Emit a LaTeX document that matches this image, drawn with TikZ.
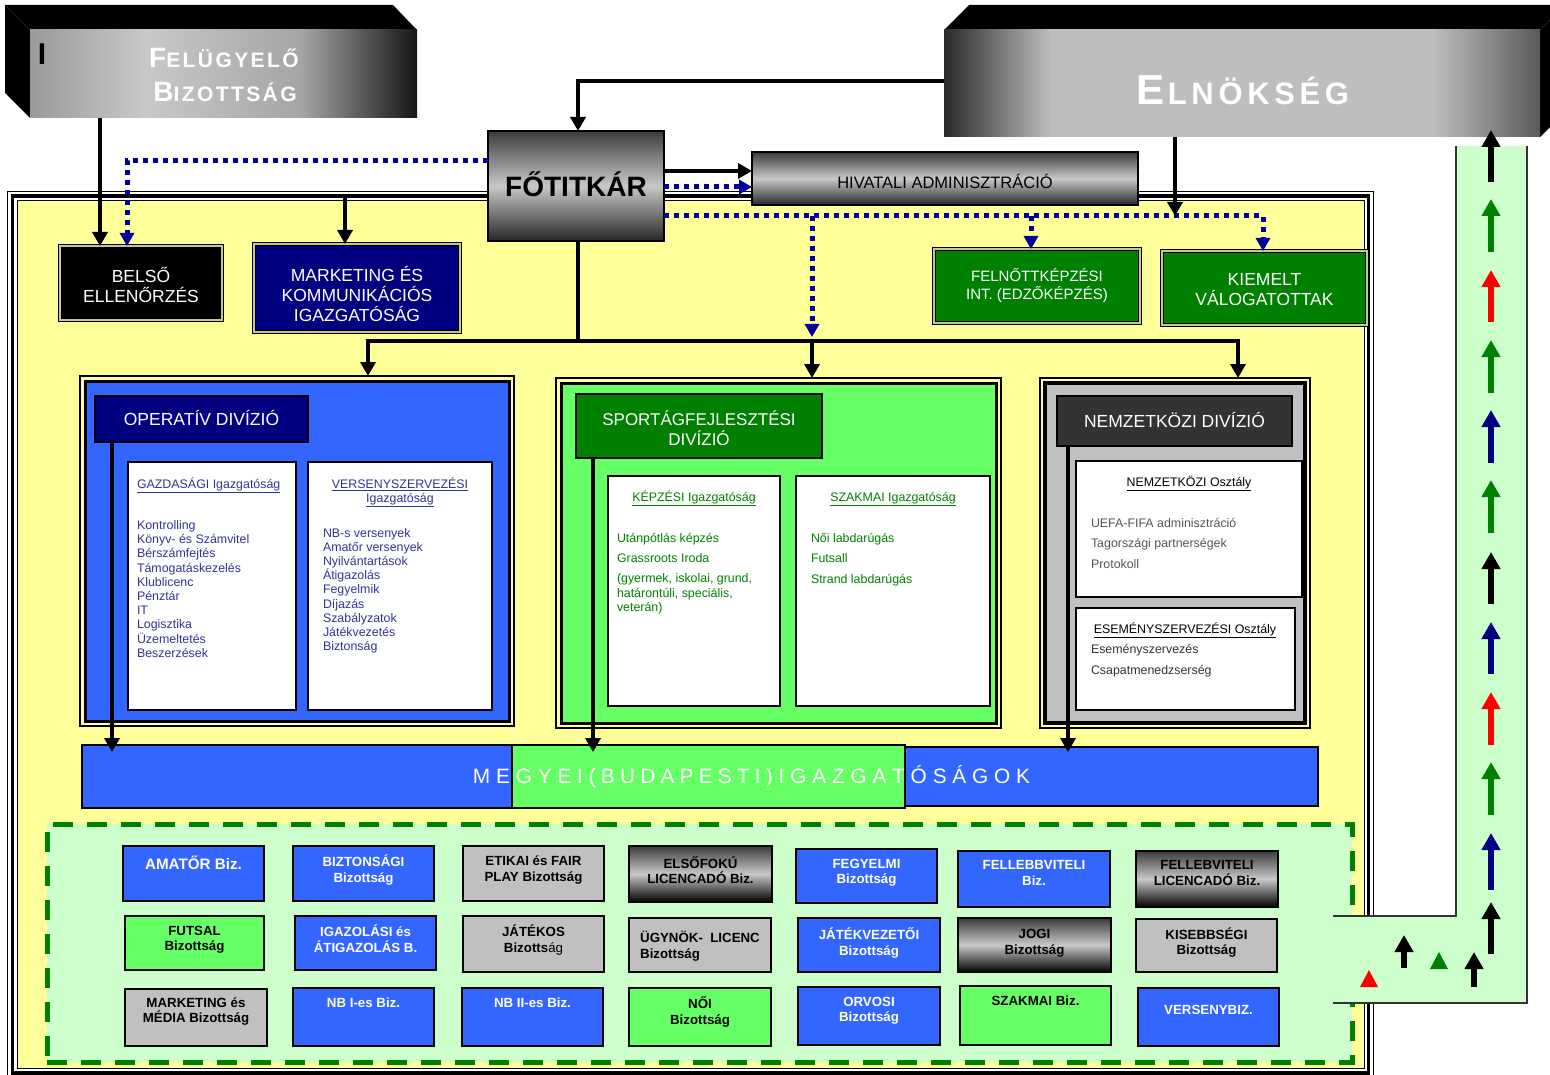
\documentclass[tikz,border=0pt]{standalone}
\usepackage{fontspec}
\setmainfont{Liberation Sans}
\usepackage{graphicx}
\usetikzlibrary{arrows.meta,calc}
\definecolor{yel}{HTML}{FFFF99}
\definecolor{blu}{HTML}{3366FF}
\definecolor{nav}{HTML}{000080}
\definecolor{dgr}{HTML}{008000}
\definecolor{lgr}{HTML}{66FF66}
\definecolor{pgr}{HTML}{CCFFCC}
\definecolor{gry}{HTML}{C0C0C0}
\definecolor{dkg}{HTML}{333333}
\definecolor{dotc}{HTML}{000099}
\definecolor{gaz}{HTML}{333399}
\definecolor{nzt}{HTML}{555555}
\definecolor{dblc}{HTML}{C8C88C}
\definecolor{gt}{HTML}{3C3C3C}
\definecolor{gm}{HTML}{C8C8C8}
\definecolor{gb}{HTML}{262626}
\definecolor{fbA}{HTML}{9A9A9A}
\definecolor{fbB}{HTML}{C8C8C8}
\definecolor{fbC}{HTML}{A5A5A5}
\definecolor{fbD}{HTML}{151515}
\definecolor{elA}{HTML}{2A2A2A}
\definecolor{elB}{HTML}{BEBEBE}
\definecolor{elC}{HTML}{5A5A5A}
\pgfdeclarehorizontalshading{fbshade}{100bp}{color(0bp)=(fbA); color(25bp)=(fbA); color(40bp)=(fbB); color(60bp)=(fbC); color(75bp)=(fbD); color(100bp)=(fbD)}
\pgfdeclarehorizontalshading{elshade}{100bp}{color(0bp)=(elA); color(25bp)=(elA); color(34bp)=(elB); color(66bp)=(elB); color(75bp)=(elC); color(100bp)=(elC)}
\newcommand{\rectnode}[6]{\node[#2, minimum width={(#5)-(#3)}, minimum height={(#6)-(#4)}] (#1) at ({((#3)+(#5))/2},{((#4)+(#6))/2}) {};}
\newcommand{\mkbox}[9]{\rectnode{#1}{#2}{#3}{#4}{#5}{#6}\node[#7] (#1t) at ({((#3)+(#5))/2},#8) {#9};}
\tikzset{
  every node/.style={inner sep=0pt, outer sep=0pt},
  conn/.style={line width=3.5pt, -{Triangle[width=15pt,length=14pt]}},
  plainline/.style={line width=3.5pt},
  dotline/.style={draw=dotc, line width=5pt, dash pattern=on 5pt off 5pt},
  dotconn/.style={dotline, -{Triangle[width=14pt,length=13pt]}},
  dbl/.style={draw=black, double=dblc, double distance=1.2pt, line width=1.3pt},
  unitt/.style={text=white, align=center, font=\fontsize{17.5}{20}\selectfont},
  gradbox/.style={draw=black, line width=1.2pt, top color=gt, bottom color=gb, middle color=gm},
  wbox/.style={draw=black, line width=1.5pt, fill=white},
  combox/.style={draw=black, line width=1.8pt},
  cblue/.style={combox, fill=blu},
  cgrey/.style={combox, fill=gry},
  cgreen/.style={combox, fill=lgr},
  cgrad/.style={combox, top color=gt, bottom color=black, middle color=gm},
  ctw/.style={align=center, text=white, font=\bfseries\fontsize{13.3}{15.5}\selectfont},
  ctb/.style={align=center, text=black, font=\bfseries\fontsize{13.3}{15.5}\selectfont},
  item/.style={anchor=base west, font=\fontsize{12.4}{14.5}\selectfont},
  hdr/.style={anchor=base, font=\fontsize{12.4}{14.5}\selectfont},
  bandarr/.style={line width=6pt, -{Triangle[width=18pt,length=17pt]}}
}
\begin{document}
\begin{tikzpicture}[x=1pt,y=-1pt]
\useasboundingbox (0,0) rectangle (1550,1075);
\fill[white] (0,0) rectangle (1550,1075);

% main frame
\draw[line width=1pt, fill=white] (7.5,191.5) rectangle (1373.5,1080);
\draw[line width=3.5pt] (12.5,196) rectangle (1368.5,1073);
\draw[line width=1pt, fill=yel] (17.5,201) rectangle (1364,1068);

% Felugyelo Bizottsag
\fill[black] (5,5) -- (393,5) -- (417,30) -- (30,30) -- cycle;
\fill[black] (5,5) -- (30,30) -- (30,118) -- (5,93) -- cycle;
\rectnode{felugy}{shade, shading=fbshade}{30}{30}{417}{118}
\node[anchor=base, text=white, font=\bfseries\fontsize{21}{21}\selectfont] (fbt1) at (224,68)
  {{\fontsize{28}{28}\selectfont F}\addfontfeature{LetterSpace=11.5}ELÜGYELŐ};
\node[anchor=base, text=white, font=\bfseries\fontsize{21}{21}\selectfont] (fbt2) at (225,102)
  {{\fontsize{28}{28}\selectfont B}\addfontfeature{LetterSpace=11.5}IZOTTSÁG};
\node[anchor=base, font=\bfseries\fontsize{30}{30}\selectfont] (fbI) at (42,65) {I};

% Elnokseg
\fill[black] (944,30) -- (969,5) -- (1565,5) -- (1540,30) -- cycle;
\fill[black] (1540,30) -- (1565,5) -- (1565,112) -- (1540,137) -- cycle;
\rectnode{elnok}{shade, shading=elshade}{944}{30}{1540}{137}
\node[anchor=base, text=white, font=\bfseries\fontsize{31}{31}\selectfont] (elnokt) at (1243,105)
  {{\fontsize{42}{42}\selectfont E}\kern3pt\addfontfeature{LetterSpace=15}LNÖKSÉG};

% Fotitkar and Hivatali
\mkbox{fot}{gradbox}{488}{131}{664}{241}{anchor=base, font=\bfseries\fontsize{28}{28}\selectfont}{197}{FŐTITKÁR}
\mkbox{hiv}{gradbox}{752}{152}{1138}{205}{anchor=base, font=\fontsize{16.5}{18}\selectfont}{189}{HIVATALI ADMINISZTRÁCIÓ}

% first level units
\mkbox{belso}{dbl, fill=black}{60}{246}{222}{320}{unitt}{285}{BELSŐ\\ELLENŐRZÉS}
\mkbox{mark}{dbl, fill=nav}{254}{244}{460}{332}{unitt}{293.5}{MARKETING ÉS\\KOMMUNIKÁCIÓS\\IGAZGATÓSÁG}
\mkbox{feln}{dbl, fill=dgr}{934}{249}{1140}{323}{unitt, font=\fontsize{15}{17.5}\selectfont}{285.5}{FELNŐTTKÉPZÉSI\\INT. (EDZŐKÉPZÉS)}
\mkbox{kiem}{dbl, fill=dgr}{1162}{251}{1367}{325}{unitt}{290}{KIEMELT\\VÁLOGATOTTAK}

% Operativ divizio
\rectnode{opframe}{draw, line width=1.2pt}{80}{376}{514}{726}
\rectnode{opdiv}{draw, fill=blu, line width=3pt}{85}{381}{509}{721}
\mkbox{optitle}{draw, line width=1.5pt, fill=nav}{95}{396}{308}{442}{anchor=base, text=white, font=\fontsize{17.5}{20}\selectfont}{425.5}{OPERATÍV DIVÍZIÓ}
\rectnode{gazd}{wbox}{128}{462}{296}{710}
\rectnode{vers}{wbox}{308}{462}{492}{710}
\node[item, text=gaz] (gzh) at (137,488.5) {\underline{GAZDASÁGI Igazgatóság}};
\foreach \t [count=\i from 0] in {Kontrolling, Könyv- és Számvitel, Bérszámfejtés, Támogatáskezelés, Klublicenc, Pénztár, IT, Logisztika, Üzemeltetés, Beszerzések}
  \node[item, text=gaz] (gz\i) at (137,{529.5+14.2*\i}) {\t};
\node[hdr, text=gaz] (vsh1) at (400,488.5) {\underline{VERSENYSZERVEZÉSI}};
\node[hdr, text=gaz] (vsh2) at (400,502.5) {\underline{Igazgatóság}};
\foreach \t [count=\i from 0] in {NB-s versenyek, Amatőr versenyek, Nyilvántartások, Átigazolás, Fegyelmik, Díjazás, Szabályzatok, Játékvezetés, Biztonság}
  \node[item, text=gaz] (vs\i) at (323,{537.5+14.1*\i}) {\t};

% Sportagfejlesztesi divizio
\rectnode{spframe}{draw, line width=1.2pt}{556}{378}{1001}{728}
\rectnode{spdiv}{draw, fill=lgr, line width=3pt}{561}{383}{996}{723}
\mkbox{sptitle}{draw, line width=1.5pt, fill=dgr}{576}{394}{822}{458}{text=white, align=center, font=\fontsize{17}{20}\selectfont}{428}{SPORTÁGFEJLESZTÉSI\\DIVÍZIÓ}
\rectnode{kepz}{wbox}{608}{476}{780}{706}
\rectnode{szak}{wbox}{796}{476}{990}{706}
\node[hdr, text=dgr] (kph) at (694,501.5) {\underline{KÉPZÉSI Igazgatóság}};
\node[item, text=dgr] (kp1) at (617,542.5) {Utánpótlás képzés};
\node[item, text=dgr] (kp2) at (617,562.5) {Grassroots Iroda};
\node[item, text=dgr] (kp3) at (617,582.5) {(gyermek, iskolai, grund,};
\node[item, text=dgr] (kp4) at (617,597) {határontúli, speciális,};
\node[item, text=dgr] (kp5) at (617,611.5) {veterán)};
\node[hdr, text=dgr] (szh) at (893,501.5) {\underline{SZAKMAI Igazgatóság}};
\node[item, text=dgr] (sz1) at (811,542.5) {Női labdarúgás};
\node[item, text=dgr] (sz2) at (811,562.5) {Futsall};
\node[item, text=dgr] (sz3) at (811,583.5) {Strand labdarúgás};

% Nemzetkozi divizio
\rectnode{nzframe}{draw, line width=1.2pt}{1040}{378}{1310}{728}
\rectnode{nzdiv}{draw, fill=gry, line width=4pt}{1045}{383}{1305}{723}
\mkbox{nztitle}{draw, line width=1.5pt, fill=dkg}{1057}{396}{1292}{446}{anchor=base, text=white, font=\fontsize{17.5}{20}\selectfont}{427.5}{NEMZETKÖZI DIVÍZIÓ}
\rectnode{nzo}{wbox}{1076}{461}{1302}{597}
\rectnode{eso}{wbox}{1076}{608}{1295}{710}
\node[hdr] (nzh) at (1189,486.5) {\underline{NEMZETKÖZI Osztály}};
\node[item, text=nzt] (nz1) at (1091,527.5) {UEFA-FIFA adminisztráció};
\node[item, text=nzt] (nz2) at (1091,547.5) {Tagországi partnerségek};
\node[item, text=nzt] (nz3) at (1091,568.5) {Protokoll};
\node[hdr] (esh) at (1185,633.5) {\underline{ESEMÉNYSZERVEZÉSI Osztály}};
\node[item, text=dkg] (es1) at (1091,653.5) {Eseményszervezés};
\node[item, text=dkg] (es2) at (1091,674.5) {Csapatmenedzserség};

% Megyei igazgatosagok
\rectnode{meg1}{draw, line width=1.5pt, fill=blu}{82}{745}{512}{808}
\rectnode{meg3}{draw, line width=1.5pt, fill=blu}{905}{747}{1318}{806}
\rectnode{meg2}{draw, line width=1.5pt, fill=lgr}{512}{745}{905}{808}
\node[anchor=base, text=white] (megt) at (751.5,783)
  {\resizebox{557pt}{18pt}{\fontsize{14}{14}\selectfont M E G Y E I {\addfontfeature{LetterSpace=25}(BUDAPESTI)} I G A Z G A T Ó S Á G O K}};

% committees area
\rectnode{bizarea}{draw=dgr, line width=5pt, dash pattern=on 20pt off 14pt, fill=pgr}{47}{824}{1352}{1062}

\mkbox{am}{cblue}{123}{846}{264}{901}{ctw, font=\bfseries\fontsize{15.2}{17}\selectfont}{863}{AMATŐR Biz.}
\mkbox{bizt}{cblue}{293}{846}{434}{901}{ctw}{870}{BIZTONSÁGI\\Bizottság}
\mkbox{etik}{cgrey}{463}{846}{604}{901}{ctb}{870}{ETIKAI és FAIR\\PLAY Bizottság}
\mkbox{elso}{cgrad}{629}{846}{772}{902}{ctb}{870}{ELSŐFOKÚ\\LICENCADÓ Biz.}
\mkbox{fegy}{cblue}{796}{849}{937}{903}{ctw}{873}{FEGYELMI\\Bizottság}
\mkbox{fell}{cblue}{958}{851}{1110}{907}{ctw}{873}{FELLEBBVITELI\\Biz.}
\mkbox{fellic}{cgrad}{1136}{851}{1278}{907}{ctb}{873}{FELLEBVITELI\\LICENCADÓ Biz.}

\mkbox{futs}{cgreen}{125}{916}{264}{970}{ctb}{940}{FUTSAL\\Bizottság}
\mkbox{igaz}{cblue}{295}{916}{436}{970}{ctw}{938.5}{IGAZOLÁSI és\\ÁTIGAZOLÁS B.}
\mkbox{jat}{cgrey}{463}{916}{604}{972}{ctb}{940}{JÁTÉKOS\\Bizotts{\mdseries ág}}
\mkbox{ugy}{cgrey}{629}{918}{771}{972}{ctb}{947}{\begin{tabular}{@{}l@{}}ÜGYNÖK-~~LICENC\\Bizottság\end{tabular}}
\mkbox{jatv}{cblue}{798}{918}{940}{972}{ctw}{943}{JÁTÉKVEZETŐI\\Bizottság}
\mkbox{jogi}{cgrad}{958}{918}{1111}{972}{ctb}{943.5}{JOGI\\Bizottság}
\mkbox{kis}{cgrey}{1136}{919}{1277}{972}{ctb}{942.5}{KISEBBSÉGI\\Bizottság}

\mkbox{mark2}{cgrey}{125}{989}{267}{1046}{ctb}{1011.5}{MARKETING és\\MÉDIA Bizottság}
\mkbox{nb1}{cblue}{293}{988}{434}{1046}{ctw}{1003}{NB I-es Biz.}
\mkbox{nb2}{cblue}{462}{988}{603}{1046}{ctw}{1003}{NB II-es Biz.}
\mkbox{noi}{cgreen}{629}{988}{771}{1046}{ctb}{1012}{NŐI\\Bizottság}
\mkbox{orv}{cblue}{798}{987}{940}{1045}{ctw}{1011}{ORVOSI\\Bizottság}
\mkbox{szakb}{cgreen}{960}{986}{1111}{1045}{ctb}{1001}{SZAKMAI Biz.}
\mkbox{versb}{cblue}{1138}{988}{1279}{1046}{ctw}{1010}{VERSENYBIZ.}

% connectors
\draw[conn] (felugy.south -| 100,0) -- (belso.north -| 100,0);
\draw[dotconn] (fot.west |- 0,161) -| (belso.north -| 127,0);
\draw[conn] (elnok.west |- 0,81) -| (fot.north -| 578,0);
\draw[conn] (fot.west |- 0,196) -| (mark.north -| 345,0);
\draw[conn] (fot.east |- 0,171) -- (hiv.west |- 0,171);
\draw[dotconn] (fot.east |- 0,187) -- (hiv.west |- 0,187);
\coordinate (dA) at (812,216);
\coordinate (dB) at (1031,216);
\coordinate (dC) at (1175,216);
\coordinate (dEnd) at (812,337);
\draw[dotconn] (fot.east |- dA) -| (kiem.north -| 1263,0);
\draw[dotconn] (dB) -- (feln.north -| dB);
\draw[dotconn] (dA) -- (dEnd);
\draw[conn] (elnok.south -| dC) -- (dC);
\coordinate (bF) at (578,341);
\coordinate (bL) at (368,341);
\coordinate (bM) at (812,341);
\coordinate (bR) at (1238,341);
\draw[plainline] (fot.south -| bF) -- (bF);
\draw[conn] (bF) -| (opframe.north -| bL);
\draw[conn] (bF) -| (nzframe.north -| bR);
\draw[conn] (bM) -- (spframe.north -| bM);
\draw[conn] (optitle.south -| 112,0) -- ($(meg1.north -| 112,0)+(0,7)$);
\draw[conn] (sptitle.south -| 593,0) -- ($(meg2.north -| 593,0)+(0,7)$);
\draw[conn] (nztitle.south -| 1068,0) -- ($(meg3.north -| 1068,0)+(0,5)$);

% return band
\fill[pgr] (1333,916) -- (1456,916) -- (1456,146) -- (1527,146) -- (1527,1003) -- (1333,1003) -- cycle;
\draw[line width=1.2pt, draw=dkg] (1333,916) -- (1456,916) -- (1456,146);
\draw[line width=1.2pt, draw=dkg] (1527,146) -- (1527,1003) -- (1333,1003);
\foreach \yb/\yt/\c in {182/130/black, 252/199/dgr, 322/270/red, 393/340/dgr, 463/410/nav, 533/480/dgr, 604/552/black, 674/622/nav, 745/692/red, 815/762/dgr, 890/833/nav, 954/902/black}
  \draw[bandarr, color=\c] (1491,\yb) -- (1491,\yt);
\draw[bandarr, color=black] (1474,987) -- (1474,952);
\draw[bandarr, color=black] (1404,968) -- (1404,935);
\fill[dgr] (1430,969) -- (1448,969) -- (1439,952) -- cycle;
\fill[red] (1360,987) -- (1378,987) -- (1369,970) -- cycle;
\end{tikzpicture}
\end{document}
